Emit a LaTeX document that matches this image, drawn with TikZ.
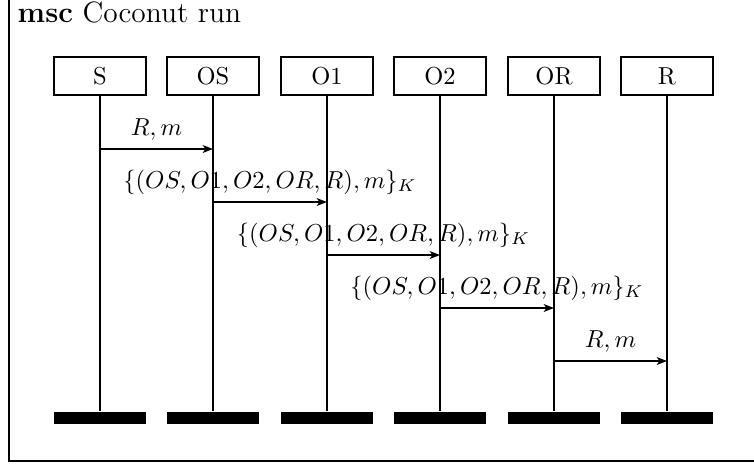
\documentclass[tikz,border=0pt]{standalone}
\usetikzlibrary{arrows.meta}
\begin{document}
\begin{tikzpicture}[x=0.408pt,y=-0.408pt,line width=0.6pt,
  head/.style={draw,minimum width=37.5pt,minimum height=15.5pt,inner sep=0pt},
  endbar/.style={fill=black,minimum width=37.5pt,minimum height=4.9pt,inner sep=0pt},
  mess/.style={-{Stealth[length=4.2pt,width=3.2pt,inset=1.1pt]}},
  lbl/.style={midway,anchor=base,yshift=5.7pt,inner sep=0pt}]
\useasboundingbox (0,0) rectangle (754,467);
\clip (0,0) rectangle (754,467);
\draw (9,-20) rectangle (790,461);
\node[anchor=base west,inner sep=0pt,font=\large] (title) at (17,22) {\textbf{msc} Coconut run};

\node[head] (S) at (100,76) {S};
\node[head] (OS) at (213,76) {OS};
\node[head] (O1) at (327,76) {O1};
\node[head] (O2) at (440,76) {O2};
\node[head] (OR) at (554,76) {OR};
\node[head] (R) at (667,76) {R};

\node[endbar] (Send) at (100,418) {};
\node[endbar] (OSend) at (213,418) {};
\node[endbar] (O1end) at (327,418) {};
\node[endbar] (O2end) at (440,418) {};
\node[endbar] (ORend) at (554,418) {};
\node[endbar] (Rend) at (667,418) {};

\draw (S) -- (Send);
\draw (OS) -- (OSend);
\draw (O1) -- (O1end);
\draw (O2) -- (O2end);
\draw (OR) -- (ORend);
\draw (R) -- (Rend);

\coordinate (m1a) at (S |- 0,149);
\coordinate (m1b) at (OS |- 0,149);
\coordinate (m2a) at (OS |- 0,202);
\coordinate (m2b) at (O1 |- 0,202);
\coordinate (m3a) at (O1 |- 0,255);
\coordinate (m3b) at (O2 |- 0,255);
\coordinate (m4a) at (O2 |- 0,308);
\coordinate (m4b) at (OR |- 0,308);
\coordinate (m5a) at (OR |- 0,361);
\coordinate (m5b) at (R |- 0,361);

\draw[mess] (m1a) -- (m1b) node[lbl] {$R, m$};
\draw[mess] (m2a) -- (m2b) node[lbl] {$\{(OS, O1, O2, OR, R), m\}_K$};
\draw[mess] (m3a) -- (m3b) node[lbl] {$\{(OS, O1, O2, OR, R), m\}_K$};
\draw[mess] (m4a) -- (m4b) node[lbl] {$\{(OS, O1, O2, OR, R), m\}_K$};
\draw[mess] (m5a) -- (m5b) node[lbl] {$R, m$};
\end{tikzpicture}
\end{document}
